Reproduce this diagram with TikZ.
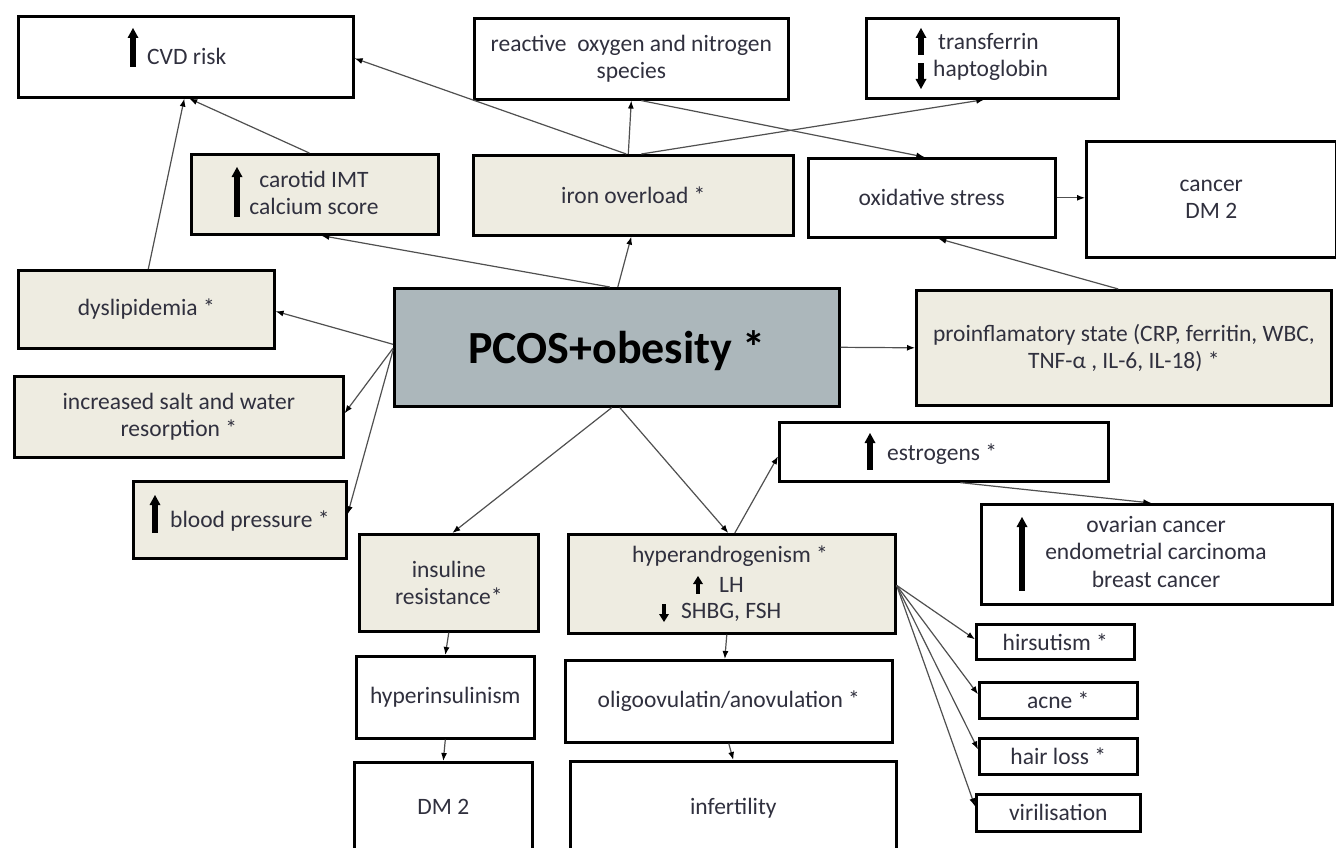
\documentclass[tikz,border=0pt]{standalone}
\usepackage{fontspec}
\setmainfont{Carlito}
\usetikzlibrary{arrows.meta}
\definecolor{beige}{RGB}{238,236,225}
\definecolor{pcosfill}{RGB}{172,183,187}
\definecolor{txtc}{RGB}{48,48,62}
\definecolor{linec}{RGB}{80,80,80}
\newcommand{\myUp}[3]{%
  \fill[black] ({#1-2.6},{#3}) rectangle ({#1+2.6},{#2+9});
  \fill[black] ({#1-5.5},{#2+10}) -- (#1,#2) -- ({#1+5.5},{#2+10}) -- cycle;}
\newcommand{\myDn}[3]{%
  \fill[black] ({#1-2.6},{#2}) rectangle ({#1+2.6},{#3-9});
  \fill[black] ({#1-5.5},{#3-10}) -- (#1,#3) -- ({#1+5.5},{#3-10}) -- cycle;}
\newcommand{\myUpS}[3]{%
  \fill[black] ({#1-2.4},{#3}) rectangle ({#1+2.4},{#2+7});
  \fill[black] ({#1-5},{#2+8}) -- (#1,#2) -- ({#1+5},{#2+8}) -- cycle;}
\newcommand{\myDnS}[3]{%
  \fill[black] ({#1-2.4},{#2}) rectangle ({#1+2.4},{#3-7});
  \fill[black] ({#1-5},{#3-8}) -- (#1,#3) -- ({#1+5},{#3-8}) -- cycle;}
\begin{document}
\begin{tikzpicture}[x=1pt,y=-1pt,
  box/.style={draw=black, line width=2.6pt, inner sep=0pt, anchor=north west,
    font=\fontsize{23.5}{27.5}\selectfont, text=txtc, align=center, fill=white},
  bbox/.style={box, fill=beige},
  txt/.style={inner sep=0pt, font=\fontsize{23.5}{27.5}\selectfont, text=txtc},
  conn/.style={draw=linec, line width=1.2pt, -{Latex[length=8pt,width=6pt,color=black]}}]
\useasboundingbox (0,0) rectangle (1336,848);
\clip (0,0) rectangle (1336,848);
\fill[white] (0,0) rectangle (1336,848);

% boxes
\node[box, minimum width=335pt, minimum height=81pt] (cvd) at (17,15) {};
\node[box, minimum width=314pt, minimum height=81pt] (react) at (473,17) {reactive\ \ oxygen and nitrogen\\species};
\node[box, minimum width=252pt, minimum height=80pt] (trans) at (865,17) {};
\node[bbox, minimum width=247pt, minimum height=80pt] (carot) at (190,153) {};
\node[bbox, minimum width=320pt, minimum height=80pt] (iron) at (472,154) {iron overload *};
\node[box, minimum width=247pt, minimum height=79pt] (oxid) at (807,157) {oxidative stress};
\node[box, minimum width=250pt, minimum height=116pt] (cancer) at (1085,140) {cancer\\DM 2};
\node[bbox, minimum width=256pt, minimum height=78pt] (dysl) at (17,269) {dyslipidemia *};
\node[box, fill=pcosfill, minimum width=445pt, minimum height=118pt, text=black, text depth=0pt,
  font=\fontsize{46}{54}\selectfont\bfseries] (pcos) at (393,287) {PCOS+obesity *};
\node[bbox, minimum width=415pt, minimum height=115pt] (prof) at (915,289) {proinflamatory state (CRP, ferritin, WBC,\\TNF-α , IL-6, IL-18) *};
\node[bbox, minimum width=329pt, minimum height=81pt] (salt) at (13,375) {increased salt and water\\resorption *};
\node[box, minimum width=329pt, minimum height=59pt] (estr) at (778,421) {};
\node[bbox, minimum width=213pt, minimum height=77pt] (bp) at (132,480) {};
\node[box, minimum width=351pt, minimum height=100pt] (ovar) at (980,503) {};
\node[bbox, minimum width=179pt, minimum height=97pt] (ins) at (358,533) {insuline\\resistance*};
\node[bbox, minimum width=327pt, minimum height=99pt] (hyp) at (567,533) {};
\node[box, minimum width=158pt, minimum height=35pt] (hirs) at (975,623) {hirsutism *};
\node[box, minimum width=158pt, minimum height=36pt] (acne) at (978,681) {acne *};
\node[box, minimum width=158pt, minimum height=36pt] (hair) at (978,737) {hair loss *};
\node[box, minimum width=164pt, minimum height=37pt] (viril) at (975,793) {virilisation};
\node[box, minimum width=178pt, minimum height=82pt] (hypins) at (355,655) {hyperinsulinism};
\node[box, minimum width=327pt, minimum height=82pt] (olig) at (564,659) {oligoovulatin/anovulation *};
\node[box, minimum width=178pt, minimum height=90pt, text depth=0pt] (dm2) at (353,761) {DM 2};
\node[box, minimum width=326pt, minimum height=91pt, text depth=0pt] (infert) at (569,760) {infertility};

% texts with arrows
\node[txt, anchor=base west] (cvdt) at (147,65) {CVD risk};
\myUp{133}{28}{67}
\node[txt, anchor=base] (carott1) at (314,187) {carotid IMT};
\node[txt, anchor=base] (carott2) at (314,214) {calcium score};
\myUp{237}{167}{217}
\node[txt, anchor=base west] (transt1) at (938,50) {transferrin};
\node[txt, anchor=base west] (transt2) at (933,77) {haptoglobin};
\myUp{921}{28}{55}
\myDn{921}{63}{89}
\node[txt, anchor=base west] (bpt) at (170,527) {blood pressure *};
\myUp{155}{495}{533}
\node[txt, anchor=base west] (estrt) at (887,460) {estrogens *};
\myUp{870}{433}{470}
\node[txt, anchor=base] (ovart1) at (1156,532) {ovarian cancer};
\node[txt, anchor=base] (ovart2) at (1156,559) {endometrial carcinoma};
\node[txt, anchor=base] (ovart3) at (1156,587) {breast cancer};
\myUp{1022}{517}{591}
\node[txt, anchor=base] (hypt1) at (730,562) {hyperandrogenism *};
\node[txt, anchor=base west] (hypt2) at (719,592) {LH};
\node[txt, anchor=base west] (hypt3) at (681,618) {SHBG, FSH};
\myUpS{698}{576}{594}
\myDnS{664}{604}{622}

% connectors
\draw[conn] ([xshift=-5pt]iron.north) -- (react.south);
\draw[conn] ([xshift=-7pt]iron.north) -- ([yshift=-1.5pt]cvd.east);
\draw[conn] ([xshift=8pt]iron.north) -- ([xshift=-8pt]trans.south);
\draw[conn] ([xshift=10pt]react.south) -- ([xshift=-7.5pt]oxid.north);
\draw[conn] (oxid.east) -- (oxid.east -| cancer.west);
\draw[conn] ([xshift=-5.5pt]prof.north) -- ([xshift=6.5pt]oxid.south);
\draw[conn] (pcos.east) -- (prof.west);
\draw[conn] ([xshift=1pt]pcos.north) -- ([xshift=-2pt]iron.south);
\draw[conn] ([xshift=-7pt]pcos.north) -- ([xshift=6.5pt]carot.south);
\draw[conn] ([xshift=-5.5pt]carot.north) -- ([xshift=3.5pt]cvd.south);
\draw[conn] ([xshift=2pt]dysl.north) -- ([xshift=-1.5pt]cvd.south);
\draw[conn] ([yshift=3pt]pcos.west) -- ([yshift=-2pt]dysl.east);
\draw[conn] ([yshift=-1pt]pcos.west) -- ([yshift=3.5pt]salt.east);
\draw[conn] ([yshift=-3pt]pcos.west) -- ([yshift=5.5pt]bp.east);
\draw[conn] ([xshift=-5pt]pcos.south) -- ([xshift=3.5pt]ins.north);
\draw[conn] ([xshift=3pt]pcos.south) -- ([xshift=-3.5pt]hyp.north);
\draw[conn] ([xshift=3pt]hyp.north) -- ([yshift=-4.5pt]estr.west);
\draw[conn] ([xshift=16.5pt]estr.south) -- ([xshift=-5.5pt]ovar.north);
\coordinate (fan) at ([yshift=-1.5pt]hyp.east);
\draw[conn] (fan) -- ([yshift=2.5pt]hirs.west);
\draw[conn] (fan) -- ([yshift=6pt]acne.west);
\draw[conn] (fan) -- ([yshift=7pt]hair.west);
\draw[conn] (fan) -- ([yshift=6.5pt]viril.west);
\draw[conn] (ins.south) -- (hypins.north);
\draw[conn] (hypins.south) -- (dm2.north);
\draw[conn] ([xshift=-5pt]hyp.south) -- ([xshift=-4pt]olig.north);
\draw[conn] (olig.south) -- (infert.north);
\end{tikzpicture}
\end{document}
